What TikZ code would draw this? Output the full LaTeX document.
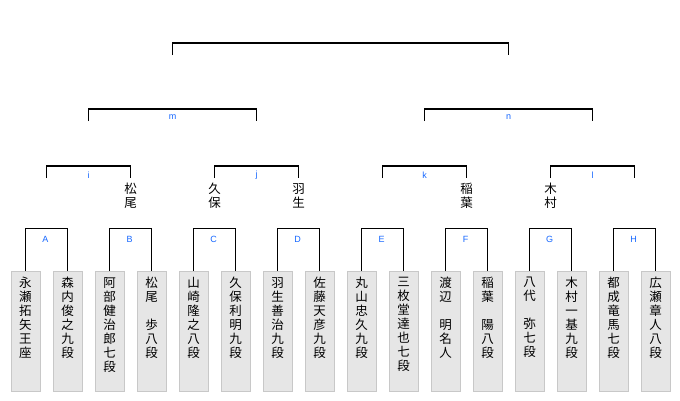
\documentclass[tikz,border=0pt]{standalone}
\usepackage{fontspec}
\setmainfont{Liberation Sans}
\newfontfamily\jp{Noto Sans CJK JP}
\definecolor{boxfill}{HTML}{E6E6E6}
\definecolor{boxline}{HTML}{C8C8C8}
\definecolor{lblblue}{HTML}{1466FF}
\begin{document}
\begin{tikzpicture}[x=1pt,y=-1pt,
  player/.style={draw=boxline, fill=boxfill, line width=0.9pt, minimum width=29pt, minimum height=120pt, inner sep=0pt, anchor=north},
  vname/.style={font=\jp\fontsize{12.5}{14}\selectfont, align=center, inner sep=0pt, anchor=north},
  lbl/.style={text=lblblue, font=\fontsize{9}{10}\selectfont, inner sep=0pt},
  br/.style={line width=1.2pt, draw=black}]
\useasboundingbox (0,0) rectangle (680,400);
% player boxes
\foreach \nm [count=\i] in {
  {永\\瀬\\拓\\矢\\王\\座},
  {森\\内\\俊\\之\\九\\段},
  {阿\\部\\健\\治\\郎\\七\\段},
  {松\\尾\\\phantom{永}\\歩\\八\\段},
  {山\\崎\\隆\\之\\八\\段},
  {久\\保\\利\\明\\九\\段},
  {羽\\生\\善\\治\\九\\段},
  {佐\\藤\\天\\彦\\九\\段},
  {丸\\山\\忠\\久\\九\\段},
  {三\\枚\\堂\\達\\也\\七\\段},
  {渡\\辺\\\phantom{永}\\明\\名\\人},
  {稲\\葉\\\phantom{永}\\陽\\八\\段},
  {八\\代\\\phantom{永}\\弥\\七\\段},
  {木\\村\\一\\基\\九\\段},
  {都\\成\\竜\\馬\\七\\段},
  {広\\瀬\\章\\人\\八\\段}}{
  \pgfmathsetmacro{\cx}{25.5+42*(\i-1)}
  \node[player] (b\i) at (\cx,270.5) {};
  \node[vname] (t\i) at (\cx,277) {\nm};
}
% first round brackets
\foreach \l [count=\j] in {A,B,C,D,E,F,G,H}{
  \pgfmathtruncatemacro{\pa}{2*\j-1}
  \pgfmathtruncatemacro{\pb}{2*\j}
  \pgfmathsetmacro{\cx}{45.5+84*(\j-1)}
  \node[lbl] (r1\l) at (\cx,239) {\l};
  \draw[br] (b\pa.north) -- ++(0,-42) -| (b\pb.north);
}
% second round brackets
\foreach \l [count=\j] in {i,j,k,l}{
  \pgfmathsetmacro{\xl}{46.5+168*(\j-1)}
  \pgfmathsetmacro{\xr}{\xl+84}
  \pgfmathsetmacro{\cx}{\xl+42}
  \coordinate (s\l a) at (\xl,178);
  \coordinate (s\l b) at (\xr,178);
  \node[lbl] (r2\l) at (\cx,175.5) {\l};
  \draw[br] (s\l a) -- ++(0,-12) -| (s\l b);
}
% third round brackets
\foreach \l [count=\j] in {m,n}{
  \pgfmathsetmacro{\xl}{88.5+336*(\j-1)}
  \pgfmathsetmacro{\xr}{\xl+168}
  \pgfmathsetmacro{\cx}{\xl+84}
  \coordinate (q\l a) at (\xl,121);
  \coordinate (q\l b) at (\xr,121);
  \node[lbl] (r3\l) at (\cx,117.5) {\l};
  \draw[br] (q\l a) -- ++(0,-12) -| (q\l b);
}
% final bracket
\coordinate (fa) at (172.5,55);
\coordinate (fb) at (508.5,55);
\draw[br] (fa) -- ++(0,-12) -| (fb);
% winners
\node[vname] (w1) at (130.5,183) {松\\尾};
\node[vname] (w2) at (214.5,183) {久\\保};
\node[vname] (w3) at (298.5,183) {羽\\生};
\node[vname] (w4) at (466.5,183) {稲\\葉};
\node[vname] (w5) at (550.5,183) {木\\村};
\end{tikzpicture}
\end{document}
